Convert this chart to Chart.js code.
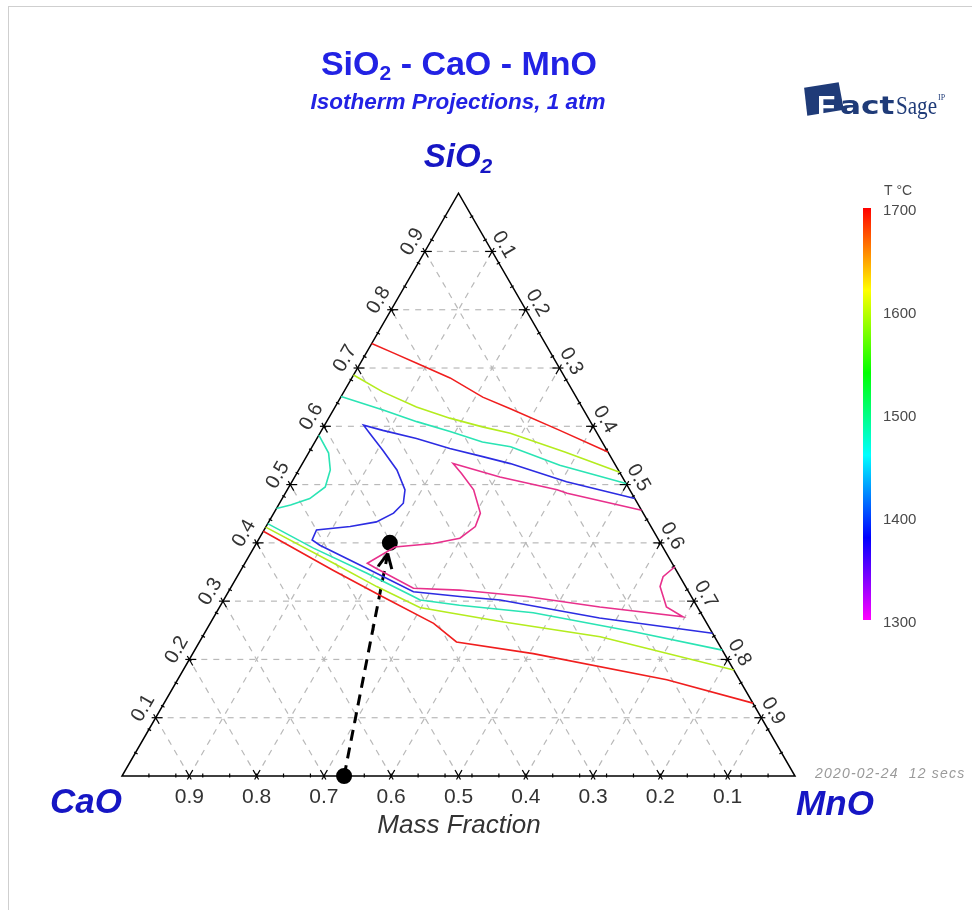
<!DOCTYPE html>
<html>
<head>
<meta charset="utf-8">
<title>SiO2 - CaO - MnO isotherm projections</title>
<script src="https://cdn.jsdelivr.net/npm/chart.js@4.4.1/dist/chart.umd.min.js"></script>
<style>
  html, body { margin: 0; padding: 0; background: #fff; overflow: hidden; }
  #wrap { position: relative; width: 972px; height: 910px; overflow: hidden; }
  #frame { position: absolute; left: 8px; top: 6px; width: 990px; height: 940px;
           border: 1px solid #cfcfcf; box-sizing: border-box; pointer-events: none; }
</style>
</head>
<body>
<div id="wrap">
  <canvas id="ternary"></canvas>
  <div id="frame"></div>
</div>
<script>
// Every composition is [SiO2, MnO] in mass fraction; CaO is whatever is left.
const iso1700Upper = [[0.742, 0], [0.726, 0.040], [0.708, 0.084], [0.683, 0.146], [0.650, 0.211],
                      [0.630, 0.262], [0.593, 0.354], [0.556, 0.444]];
const iso1700Lower = [[0.420, 0], [0.353, 0.137], [0.310, 0.228], [0.262, 0.332], [0.230, 0.382],
                      [0.210, 0.506], [0.165, 0.727], [0.125, 0.875]];

const iso1600Upper = [[0.688, 0], [0.659, 0.058], [0.633, 0.121], [0.614, 0.180], [0.599, 0.236],
                      [0.588, 0.283], [0.556, 0.380], [0.521, 0.479]];
const iso1600Lower = [[0.427, 0], [0.365, 0.132], [0.325, 0.216], [0.289, 0.298], [0.280, 0.347],
                      [0.265, 0.430], [0.239, 0.591], [0.182, 0.818]];

const iso1500Upper = [[0.651, 0], [0.628, 0.074], [0.608, 0.134], [0.591, 0.192], [0.573, 0.249],
                      [0.565, 0.295], [0.533, 0.384], [0.502, 0.498]];
const iso1500Pocket = [[0.585, 0], [0.554, 0.030], [0.525, 0.047], [0.496, 0.054], [0.476, 0.041],
                       [0.465, 0.018], [0.459, 0]];
const iso1500Lower = [[0.433, 0], [0.391, 0.089], [0.348, 0.190], [0.308, 0.279], [0.302, 0.292],
                      [0.293, 0.355], [0.280, 0.471], [0.248, 0.635], [0.216, 0.784]];

const iso1400 = [[0.476, 0.524], [0.505, 0.408], [0.536, 0.309], [0.548, 0.262], [0.562, 0.206],
                 [0.579, 0.148], [0.593, 0.091], [0.602, 0.058], [0.588, 0.074], [0.559, 0.108],
                 [0.525, 0.146], [0.491, 0.175], [0.468, 0.184], [0.451, 0.178], [0.436, 0.160],
                 [0.428, 0.125], [0.422, 0.078], [0.405, 0.080], [0.396, 0.096], [0.356, 0.186],
                 [0.316, 0.275], [0.308, 0.348], [0.302, 0.411], [0.271, 0.574], [0.245, 0.755]];

const iso1300 = [[0.359, 0.642], [0.342, 0.633], [0.325, 0.637], [0.290, 0.664], [0.273, 0.697],
                 [0.290, 0.565], [0.308, 0.447], [0.319, 0.342], [0.322, 0.272], [0.356, 0.200],
                 [0.365, 0.182], [0.393, 0.209], [0.399, 0.263], [0.408, 0.298], [0.428, 0.311],
                 [0.451, 0.307], [0.491, 0.277], [0.519, 0.245], [0.536, 0.224], [0.513, 0.305],
                 [0.491, 0.401], [0.485, 0.419], [0.456, 0.544]];

// dashed path: SiO2 added to a CaO/MnO base
const pathStart = [0, 0.330];
const pathEnd = [0.400, 0.198];

const gridValues = [0.1, 0.2, 0.3, 0.4, 0.5, 0.6, 0.7, 0.8, 0.9];
const legendTemps = [1700, 1600, 1500, 1400, 1300];

const isotherms = [
  { temp: 1700, color: '#f01e1e', parts: [iso1700Upper, iso1700Lower] },
  { temp: 1600, color: '#b4ec1e', parts: [iso1600Upper, iso1600Lower] },
  { temp: 1500, color: '#2ae4b4', parts: [iso1500Upper, iso1500Pocket, iso1500Lower] },
  { temp: 1400, color: '#2c2ce2', parts: [iso1400] },
  { temp: 1300, color: '#e8308c', parts: [iso1300] }
];

const SQ = Math.sqrt(3) / 2;
const toXY = ([s, m]) => ({ x: m + s / 2, y: s * SQ });

const datasets = [];
isotherms.forEach(iso => {
  iso.parts.forEach(part => {
    datasets.push({
      label: iso.temp + ' °C',
      data: part.map(toXY),
      showLine: true,
      borderColor: iso.color,
      borderWidth: 1.6,
      pointRadius: 0,
      tension: 0
    });
  });
});
datasets.push({
  label: 'path',
  data: [toXY(pathStart), toXY(pathEnd)],
  showLine: true,
  borderColor: '#000',
  borderWidth: 3,
  borderDash: [11, 7],
  pointRadius: 6.5,
  pointBackgroundColor: '#000',
  pointBorderColor: '#000'
});

const TITLE_BLUE = '#2222e4';
const CORNER_BLUE = '#1616c4';
const SANS = '"Liberation Sans", Arial, sans-serif';

function textWithSub(ctx, parts, cx, baseline, font, subFont, subDrop) {
  const widths = parts.map(([t, sub]) => { ctx.font = sub ? subFont : font; return ctx.measureText(t).width; });
  let x = cx - widths.reduce((a, b) => a + b, 0) / 2;
  ctx.textAlign = 'left';
  ctx.textBaseline = 'alphabetic';
  parts.forEach(([t, sub], i) => {
    ctx.font = sub ? subFont : font;
    ctx.fillText(t, x, baseline + (sub ? subDrop : 0));
    x += widths[i];
  });
}

const ternaryFrame = {
  id: 'ternaryFrame',
  beforeDatasetsDraw(chart) {
    const { ctx, scales: { x: xs, y: ys } } = chart;
    const px = (s, m) => { const p = toXY([s, m]); return [xs.getPixelForValue(p.x), ys.getPixelForValue(p.y)]; };
    const seg = (a, b) => { ctx.beginPath(); ctx.moveTo(a[0], a[1]); ctx.lineTo(b[0], b[1]); ctx.stroke(); };

    // dashed grid for all three components
    ctx.save();
    ctx.strokeStyle = '#b9b9b9';
    ctx.lineWidth = 1.2;
    ctx.setLineDash([6, 6]);
    gridValues.forEach(v => {
      seg(px(v, 0), px(v, 1 - v));
      seg(px(0, v), px(1 - v, v));
      seg(px(0, 1 - v), px(1 - v, 0));
    });
    ctx.restore();

    // triangle
    ctx.save();
    ctx.strokeStyle = '#000';
    ctx.lineWidth = 1.5;
    ctx.beginPath();
    const a = px(0, 0), b = px(0, 1), c = px(1, 0);
    ctx.moveTo(a[0], a[1]); ctx.lineTo(b[0], b[1]); ctx.lineTo(c[0], c[1]); ctx.closePath();
    ctx.stroke();

    // minor ticks every 0.04, major crosses every 0.1
    ctx.lineWidth = 1.2;
    const edges = [
      { at: t => px(0, t), norm: [0, 1], dirs: [[0.5, -SQ], [-0.5, -SQ]] },           // base
      { at: t => px(t, 0), norm: [-SQ, -0.5], dirs: [[1, 0], [0.5, SQ]] },            // CaO-SiO2
      { at: t => px(1 - t, t), norm: [SQ, -0.5], dirs: [[-1, 0], [-0.5, SQ]] }         // SiO2-MnO
    ];
    edges.forEach(e => {
      for (let k = 1; k < 25; k++) {
        const p = e.at(k * 0.04);
        seg([p[0] - e.norm[0] * 2.5, p[1] - e.norm[1] * 2.5], [p[0] + e.norm[0] * 1.5, p[1] + e.norm[1] * 1.5]);
      }
      gridValues.forEach(v => {
        const p = e.at(v);
        e.dirs.forEach(d => seg([p[0] - d[0] * 4, p[1] - d[1] * 4], [p[0] + d[0] * 7, p[1] + d[1] * 7]));
      });
    });

    // tick labels
    ctx.fillStyle = '#333';
    ctx.textAlign = 'center';
    ctx.textBaseline = 'middle';
    gridValues.forEach(v => {
      ctx.font = '21px ' + SANS;
      const pb = px(0, v);
      ctx.fillText((1 - v).toFixed(1), pb[0], pb[1] + 21);

      ctx.font = '20px ' + SANS;
      const pl = px(v, 0);
      ctx.save();
      ctx.translate(pl[0] - SQ * 15.5 + 0.5 * 2, pl[1] - 0.5 * 15.5 - SQ * 2);
      ctx.rotate(-Math.PI / 3);
      ctx.fillText(v.toFixed(1), 0, 0);
      ctx.restore();

      const pr = px(1 - v, v);
      ctx.save();
      ctx.translate(pr[0] + SQ * 13.5, pr[1] - 0.5 * 13.5);
      ctx.rotate(Math.PI / 3);
      ctx.fillText(v.toFixed(1), 0, 0);
      ctx.restore();
    });
    ctx.restore();
  },

  afterDatasetsDraw(chart) {
    // open arrow head near the upper end of the dashed path
    const { ctx, scales: { x: xs, y: ys } } = chart;
    const f = toXY(pathStart), t = toXY(pathEnd);
    const x0 = xs.getPixelForValue(f.x), y0 = ys.getPixelForValue(f.y);
    const x1 = xs.getPixelForValue(t.x), y1 = ys.getPixelForValue(t.y);
    const len = Math.hypot(x1 - x0, y1 - y0);
    const ux = (x1 - x0) / len, uy = (y1 - y0) / len;
    const tipX = x1 - ux * 11, tipY = y1 - uy * 11;
    ctx.save();
    ctx.strokeStyle = '#000';
    ctx.lineWidth = 3;
    ctx.setLineDash([]);
    [0.45, -0.45].forEach(ang => {
      const c = Math.cos(ang), s = Math.sin(ang);
      const dx = ux * c - uy * s, dy = ux * s + uy * c;
      ctx.beginPath();
      ctx.moveTo(tipX, tipY);
      ctx.lineTo(tipX - dx * 16, tipY - dy * 16);
      ctx.stroke();
    });
    ctx.restore();
  },

  afterDraw(chart) {
    const { ctx } = chart;
    ctx.save();

    // titles
    ctx.fillStyle = TITLE_BLUE;
    textWithSub(ctx, [['SiO', false], ['2', true], [' - CaO - MnO', false]], 459, 75,
      'bold 34px ' + SANS, 'bold 21px ' + SANS, 5);
    ctx.font = 'italic bold 22.5px ' + SANS;
    ctx.textAlign = 'center';
    ctx.fillText('Isotherm Projections, 1 atm', 458, 109);

    // vertex labels
    ctx.fillStyle = CORNER_BLUE;
    textWithSub(ctx, [['SiO', false], ['2', true]], 458, 167,
      'italic bold 33px ' + SANS, 'italic bold 21px ' + SANS, 6);
    ctx.font = 'italic bold 35px ' + SANS;
    ctx.textAlign = 'center';
    ctx.fillText('CaO', 86, 813);
    ctx.fillText('MnO', 835, 815);

    // axis caption and run stamp
    ctx.fillStyle = '#333';
    ctx.font = 'italic 26px ' + SANS;
    ctx.fillText('Mass Fraction', 459, 833);
    ctx.fillStyle = '#9a9a9a';
    ctx.font = 'italic 14px ' + SANS;
    ctx.textAlign = 'left';
    ctx.letterSpacing = '1.2px';
    ctx.fillText('2020-02-24  12 secs', 815, 778);
    ctx.letterSpacing = '0px';

    // temperature colour bar
    const barTop = 208, barBottom = 620, barX = 863, barW = 8;
    const grad = ctx.createLinearGradient(0, barTop, 0, barBottom);
    ['#ff0000', '#ffff00', '#00ff00', '#00ffff', '#0000ff', '#ff00ff'].forEach((c, i) => grad.addColorStop(i / 5, c));
    ctx.fillStyle = grad;
    ctx.fillRect(barX, barTop, barW, barBottom - barTop);
    ctx.fillStyle = '#4a4a4a';
    ctx.font = '15px ' + SANS;
    ctx.textBaseline = 'middle';
    legendTemps.forEach(T => {
      const y = barBottom - (T - 1300) / 400 * (barBottom - barTop);
      ctx.fillText(String(T), 883, y + 3);
    });
    ctx.font = '14px ' + SANS;
    ctx.fillText('T °C', 884, 191);

    // FactSage mark
    ctx.fillStyle = '#1f3b78';
    ctx.save();
    ctx.translate(823, 99);
    ctx.rotate(-0.22);
    ctx.beginPath();
    ctx.moveTo(-16, -15); ctx.lineTo(19, -13); ctx.lineTo(18, 15); ctx.lineTo(-19, 13); ctx.closePath();
    ctx.fill();
    ctx.restore();
    ctx.fillStyle = '#fff';
    ctx.font = 'bold 30px ' + SANS;
    ctx.textBaseline = 'alphabetic';
    ctx.fillText('F', 817, 116);
    ctx.fillStyle = '#1f3b78';
    ctx.save();
    ctx.translate(840, 114);
    ctx.scale(1.3, 1);
    ctx.font = 'bold 24px "DejaVu Sans", sans-serif';
    ctx.fillText('act', 0, 0);
    ctx.restore();
    ctx.font = '25px "Liberation Serif", serif';
    ctx.fillText('Sage', 896, 114, 41);
    ctx.font = '8px "Liberation Serif", serif';
    ctx.fillText('IP', 938, 100);

    ctx.restore();
  }
};

new Chart(document.getElementById('ternary'), {
  type: 'scatter',
  data: { datasets },
  options: {
    responsive: true,
    maintainAspectRatio: false,
    animation: false,
    layout: { padding: 0, autoPadding: false },
    scales: {
      // one data unit = 673 px on both axes so the triangle stays equilateral
      x: { type: 'linear', display: false, min: -122 / 673, max: 850 / 673 },
      y: { type: 'linear', display: false, min: -134 / 673, max: 776 / 673 }
    },
    plugins: {
      legend: { display: false },
      tooltip: { enabled: false }
    }
  },
  plugins: [ternaryFrame]
});
</script>
</body>
</html>
